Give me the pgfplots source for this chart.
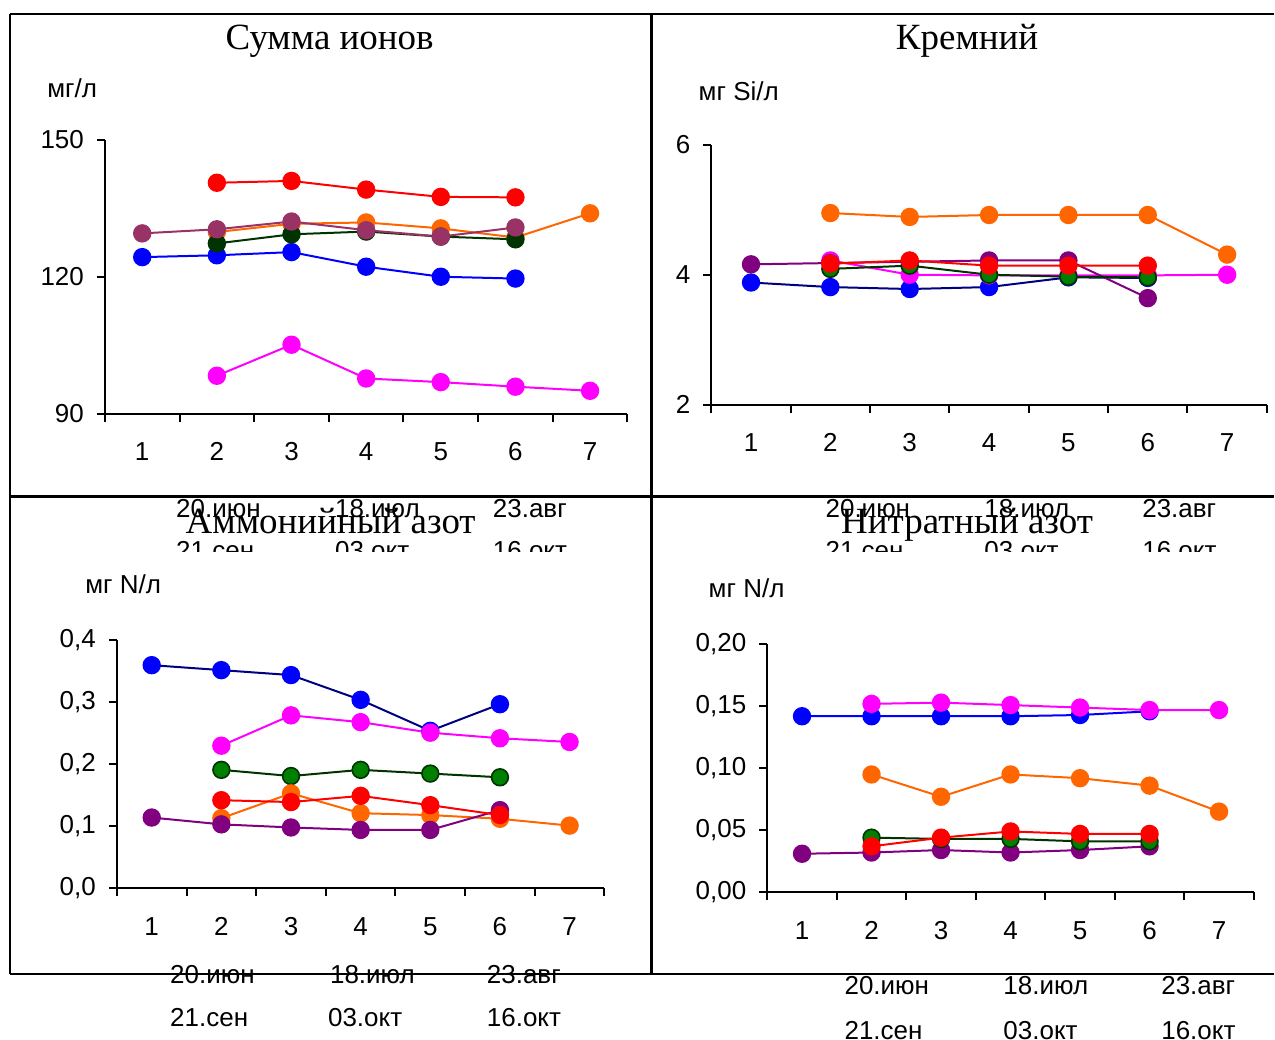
\documentclass[border=0pt]{standalone}
\usepackage{pgfplots}
\pgfplotsset{compat=1.18}
\usepackage{fontspec}
\setmainfont{Liberation Serif}
\newfontfamily\arial{Liberation Sans}

\definecolor{cRed}{HTML}{FF0000}
\definecolor{cOrange}{HTML}{FF6600}
\definecolor{cDkGreen}{HTML}{003300}
\definecolor{cGreen}{HTML}{008000}
\definecolor{cMauve}{HTML}{993366}
\definecolor{cBlue}{HTML}{0000FF}
\definecolor{cNavy}{HTML}{000080}
\definecolor{cMagenta}{HTML}{FF00FF}
\definecolor{cPurple}{HTML}{800080}

\newcommand{\af}{\arial\fontsize{13}{15}\selectfont}
\newcommand{\tf}{\fontsize{18.5}{20}\selectfont}

\pgfplotsset{
  excel/.style={
    scale only axis, anchor=south west, clip=false,
    axis x line=bottom, axis y line=left,
    axis line style={-, line width=1pt, black},
    xmin=0.5, xmax=7.5,
    xtick={0.5,1.5,...,7.5},
    xticklabels={1,2,3,4,5,6,7},
    x tick label as interval,
    tick align=outside,
    major tick length=4pt,
    tick style={line width=1pt, black},
    ticklabel style={font=\af},
    xticklabel style={yshift=-7pt},
    yticklabel style={xshift=-3pt},
    scaled y ticks=false,
    /pgf/number format/assume math mode=true,
  },
  s/.style 2 args={draw=#1, line width=1pt, mark=*, mark size=4.2pt,
    mark options={draw=#2, fill=#2, line width=0.8pt}},
  sg/.style={draw=cDkGreen, line width=1pt, mark=*, mark size=4.2pt,
    mark options={draw=cDkGreen, fill=cGreen, line width=0.8pt}},
}

\begin{document}
\begin{tikzpicture}
\begin{scope}[x=0.5pt,y=-0.5pt]
\path[use as bounding box] (0,0) rectangle (1275,1032);
\fill[white] (0,0) rectangle (1275,1032);
\end{scope}

% Сумма ионов
\begin{axis}[excel, at={(52.5pt,-207pt)}, width=261.5pt, height=137pt,
  ymin=90, ymax=150, ytick={90,120,150}]
\addplot[s={cMagenta}{cMagenta}] coordinates {(2,98.3)(3,105.1)(4,97.7)(5,96.9)(6,95.9)(7,95.0)};
\addplot[s={cBlue}{cBlue}] coordinates {(1,124.3)(2,124.7)(3,125.4)(4,122.2)(5,120.0)(6,119.6)};
\addplot[s={cOrange}{cOrange}] coordinates {(2,129.8)(3,131.6)(4,131.9)(5,130.6)(6,128.6)(7,133.9)};
\addplot[s={cDkGreen}{cDkGreen}] coordinates {(2,127.3)(3,129.3)(4,129.9)(5,128.8)(6,128.2)};
\addplot[s={cRed}{cRed}] coordinates {(2,140.6)(3,141.0)(4,139.1)(5,137.5)(6,137.4)};
\addplot[s={cMauve}{cMauve}] coordinates {(1,129.5)(2,130.4)(3,132.1)(4,130.2)(5,128.8)(6,130.8)};
\end{axis}

% Кремний
\begin{axis}[excel, at={(356pt,-202.5pt)}, width=278pt, height=130pt,
  ymin=2, ymax=6, ytick={2,4,6}]
\addplot[s={cOrange}{cOrange}] coordinates {(2,4.95)(3,4.89)(4,4.92)(5,4.92)(6,4.92)(7,4.31)};
\addplot[s={cNavy}{cBlue}] coordinates {(1,3.88)(2,3.81)(3,3.78)(4,3.81)(5,3.96)(6,3.95)};
\addplot[s={cMagenta}{cMagenta}] coordinates {(2,4.22)(3,4.0)(4,3.99)(5,3.99)(6,3.99)(7,4.0)};
\addplot[s={cPurple}{cPurple}] coordinates {(1,4.16)(2,4.18)(3,4.20)(4,4.22)(5,4.22)(6,3.64)};
\addplot[sg] coordinates {(2,4.09)(3,4.14)(4,4.0)(5,3.97)(6,3.96)};
\addplot[s={cRed}{cRed}] coordinates {(2,4.17)(3,4.22)(4,4.14)(5,4.14)(6,4.14)};
\end{axis}

% Аммонийный азот
\begin{axis}[excel, at={(58.5pt,-444.5pt)}, width=244pt, height=124pt,
  ymin=0, ymax=0.4, ytick={0,0.1,0.2,0.3,0.4},
  yticklabel style={/pgf/number format/fixed, /pgf/number format/fixed zerofill,
    /pgf/number format/precision=1, /pgf/number format/use comma}]
\addplot[s={cNavy}{cBlue}] coordinates {(1,0.360)(2,0.352)(3,0.344)(4,0.304)(5,0.254)(6,0.297)};
\addplot[s={cMagenta}{cMagenta}] coordinates {(2,0.230)(3,0.279)(4,0.268)(5,0.251)(6,0.242)(7,0.236)};
\addplot[sg] coordinates {(2,0.191)(3,0.181)(4,0.191)(5,0.185)(6,0.179)};
\addplot[s={cOrange}{cOrange}] coordinates {(2,0.113)(3,0.153)(4,0.121)(5,0.118)(6,0.112)(7,0.101)};
\addplot[s={cPurple}{cPurple}] coordinates {(1,0.114)(2,0.103)(3,0.098)(4,0.094)(5,0.094)(6,0.126)};
\addplot[s={cRed}{cRed}] coordinates {(2,0.142)(3,0.139)(4,0.149)(5,0.134)(6,0.118)};
\end{axis}

% Нитратный азот
\begin{axis}[excel, at={(384pt,-446.5pt)}, width=243.5pt, height=124pt,
  ymin=0, ymax=0.2, ytick={0,0.05,0.1,0.15,0.2},
  yticklabel style={/pgf/number format/fixed, /pgf/number format/fixed zerofill,
    /pgf/number format/precision=2, /pgf/number format/use comma}]
\addplot[s={cBlue}{cBlue}] coordinates {(1,0.142)(2,0.142)(3,0.142)(4,0.142)(5,0.143)(6,0.146)};
\addplot[s={cMagenta}{cMagenta}] coordinates {(2,0.152)(3,0.153)(4,0.151)(5,0.149)(6,0.147)(7,0.147)};
\addplot[s={cOrange}{cOrange}] coordinates {(2,0.095)(3,0.077)(4,0.095)(5,0.092)(6,0.086)(7,0.065)};
\addplot[s={cPurple}{cPurple}] coordinates {(1,0.031)(2,0.032)(3,0.034)(4,0.032)(5,0.034)(6,0.037)};
\addplot[sg] coordinates {(2,0.044)(3,0.043)(4,0.043)(5,0.041)(6,0.041)};
\addplot[s={cRed}{cRed}] coordinates {(2,0.037)(3,0.044)(4,0.049)(5,0.047)(6,0.047)};
\end{axis}

\begin{scope}[x=0.5pt,y=-0.5pt]
% dates under the top charts, cut by the lower panels
\begin{scope}
\clip (10,497) rectangle (1275,552);
\foreach \x/\t in {176/20.июн, 335/18.июл, 493/23.авг, 826/20.июн, 985/18.июл, 1143/23.авг}
  \node[anchor=base west, inner sep=0, font=\af] at (\x,518) {\t};
\foreach \x/\t in {176/21.сен, 335/03.окт, 493/16.окт, 826/21.сен, 985/03.окт, 1143/16.окт}
  \node[anchor=base west, inner sep=0, font=\af] at (\x,560) {\t};
\end{scope}
% dates under the lower charts
\foreach \x/\t in {170/20.июн, 330/18.июл, 487/23.авг}
  \node[anchor=base west, inner sep=0, font=\af] at (\x,984) {\t};
\foreach \x/\t in {170/21.сен, 328/03.окт, 487/16.окт}
  \node[anchor=base west, inner sep=0, font=\af] at (\x,1027) {\t};
\foreach \x/\t in {845/20.июн, 1004/18.июл, 1162/23.авг}
  \node[anchor=base west, inner sep=0, font=\af] at (\x,995) {\t};
\foreach \x/\t in {845/21.сен, 1004/03.окт, 1162/16.окт}
  \node[anchor=base west, inner sep=0, font=\af] at (\x,1040) {\t};

% frames
\draw[line width=1.2pt] (10,14) -- (1275,14);
\draw[line width=1.2pt] (10,497) -- (1275,497);
\draw[line width=1.2pt] (10,975) -- (1275,975);
\draw[line width=1.2pt] (10,14) -- (10,975);
\draw[line width=1.2pt] (652,14) -- (652,975);

% titles
\node[anchor=base, inner sep=0, font=\tf] at (330,50) {Сумма ионов};
\node[anchor=base, inner sep=0, font=\tf] at (968,50) {Кремний};
\node[anchor=base, inner sep=0, font=\tf] at (331,534) {Аммонийный азот};
\node[anchor=base, inner sep=0, font=\tf] at (968,534) {Нитратный азот};

% units
\node[anchor=base west, inner sep=0, font=\af] at (47,98) {мг/л};
\node[anchor=base west, inner sep=0, font=\af] at (699,101) {мг Si/л};
\node[anchor=base west, inner sep=0, font=\af] at (85,594) {мг N/л};
\node[anchor=base west, inner sep=0, font=\af] at (709,598) {мг N/л};
\end{scope}
\end{tikzpicture}
\end{document}
